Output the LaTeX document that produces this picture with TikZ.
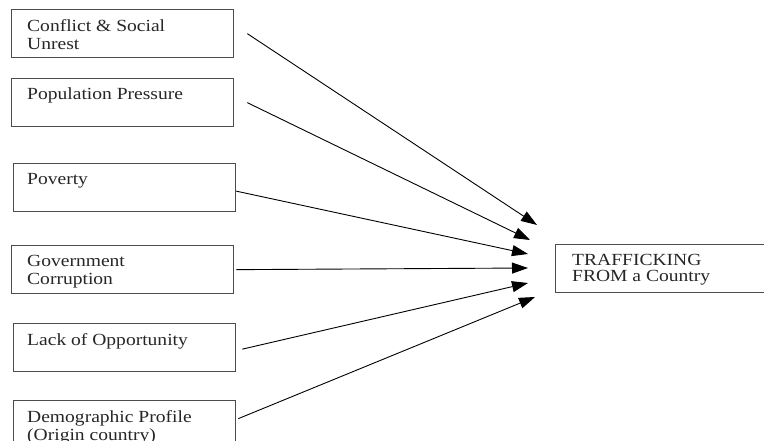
\documentclass[tikz,border=0pt]{standalone}
\usepackage{fontspec}
\setmainfont{Liberation Serif}[FakeStretch=1.15]
\usetikzlibrary{arrows.meta}
\usetikzlibrary{positioning}

\begin{document}
\begin{tikzpicture}[x=1pt,y=-1pt,
  factor/.style={draw=black!70,line width=1.3pt,minimum width=222pt,minimum height=48pt,inner sep=0pt,anchor=north west},
  factortext/.style={text=black!85,font=\fontsize{17}{18.5}\selectfont,align=left,inner sep=0pt},
  drive/.style={-{Triangle[length=16pt,width=11pt]},line width=0.9pt}]
\useasboundingbox (0,0) rectangle (764,441);
\clip (0,0) rectangle (764,441);

%factor boxes
\foreach\i/\x/\y in {1/11/9,2/11/78,3/13/163,4/11/245,5/13/323,6/13/400}{
	\node[factor] (f\i) at (\x,\y) {};}

%factor texts
\node[factortext,below right=10pt and 16pt of f1.north west] (t1) {Conflict \& Social\\Unrest};
\node[factortext,below right=10pt and 16pt of f2.north west] (t2) {Population Pressure};
\node[factortext,below right=10pt and 14pt of f3.north west] (t3) {Poverty};
\node[factortext,below right=10pt and 16pt of f4.north west] (t4) {Government\\Corruption};
\node[factortext,below right=10pt and 14pt of f5.north west] (t5) {Lack of Opportunity};
\node[factortext,below right=10pt and 14pt of f6.north west] (t6) {Demographic Profile\\(Origin country)};

%outcome
\node[factor] (out) at (555,244) {};
\node[factortext,font=\fontsize{17}{16}\selectfont,below right=10pt and 17pt of out.north west] (tout) {TRAFFICKING\\FROM a Country};

%arrows
\foreach\i/\dx/\dy/\tx/\ty in {1/13/0/537/225,2/13/0/530/240,3/0/3.5/528/254,4/2/0/528/268,5/6/1.5/528/283,6/2/-6/535/297}{
	\coordinate (tip\i) at (\tx,\ty);
	\draw[drive] ([shift={(\dx,\dy)}]f\i.east) -- (tip\i);}
\end{tikzpicture}
\end{document}
